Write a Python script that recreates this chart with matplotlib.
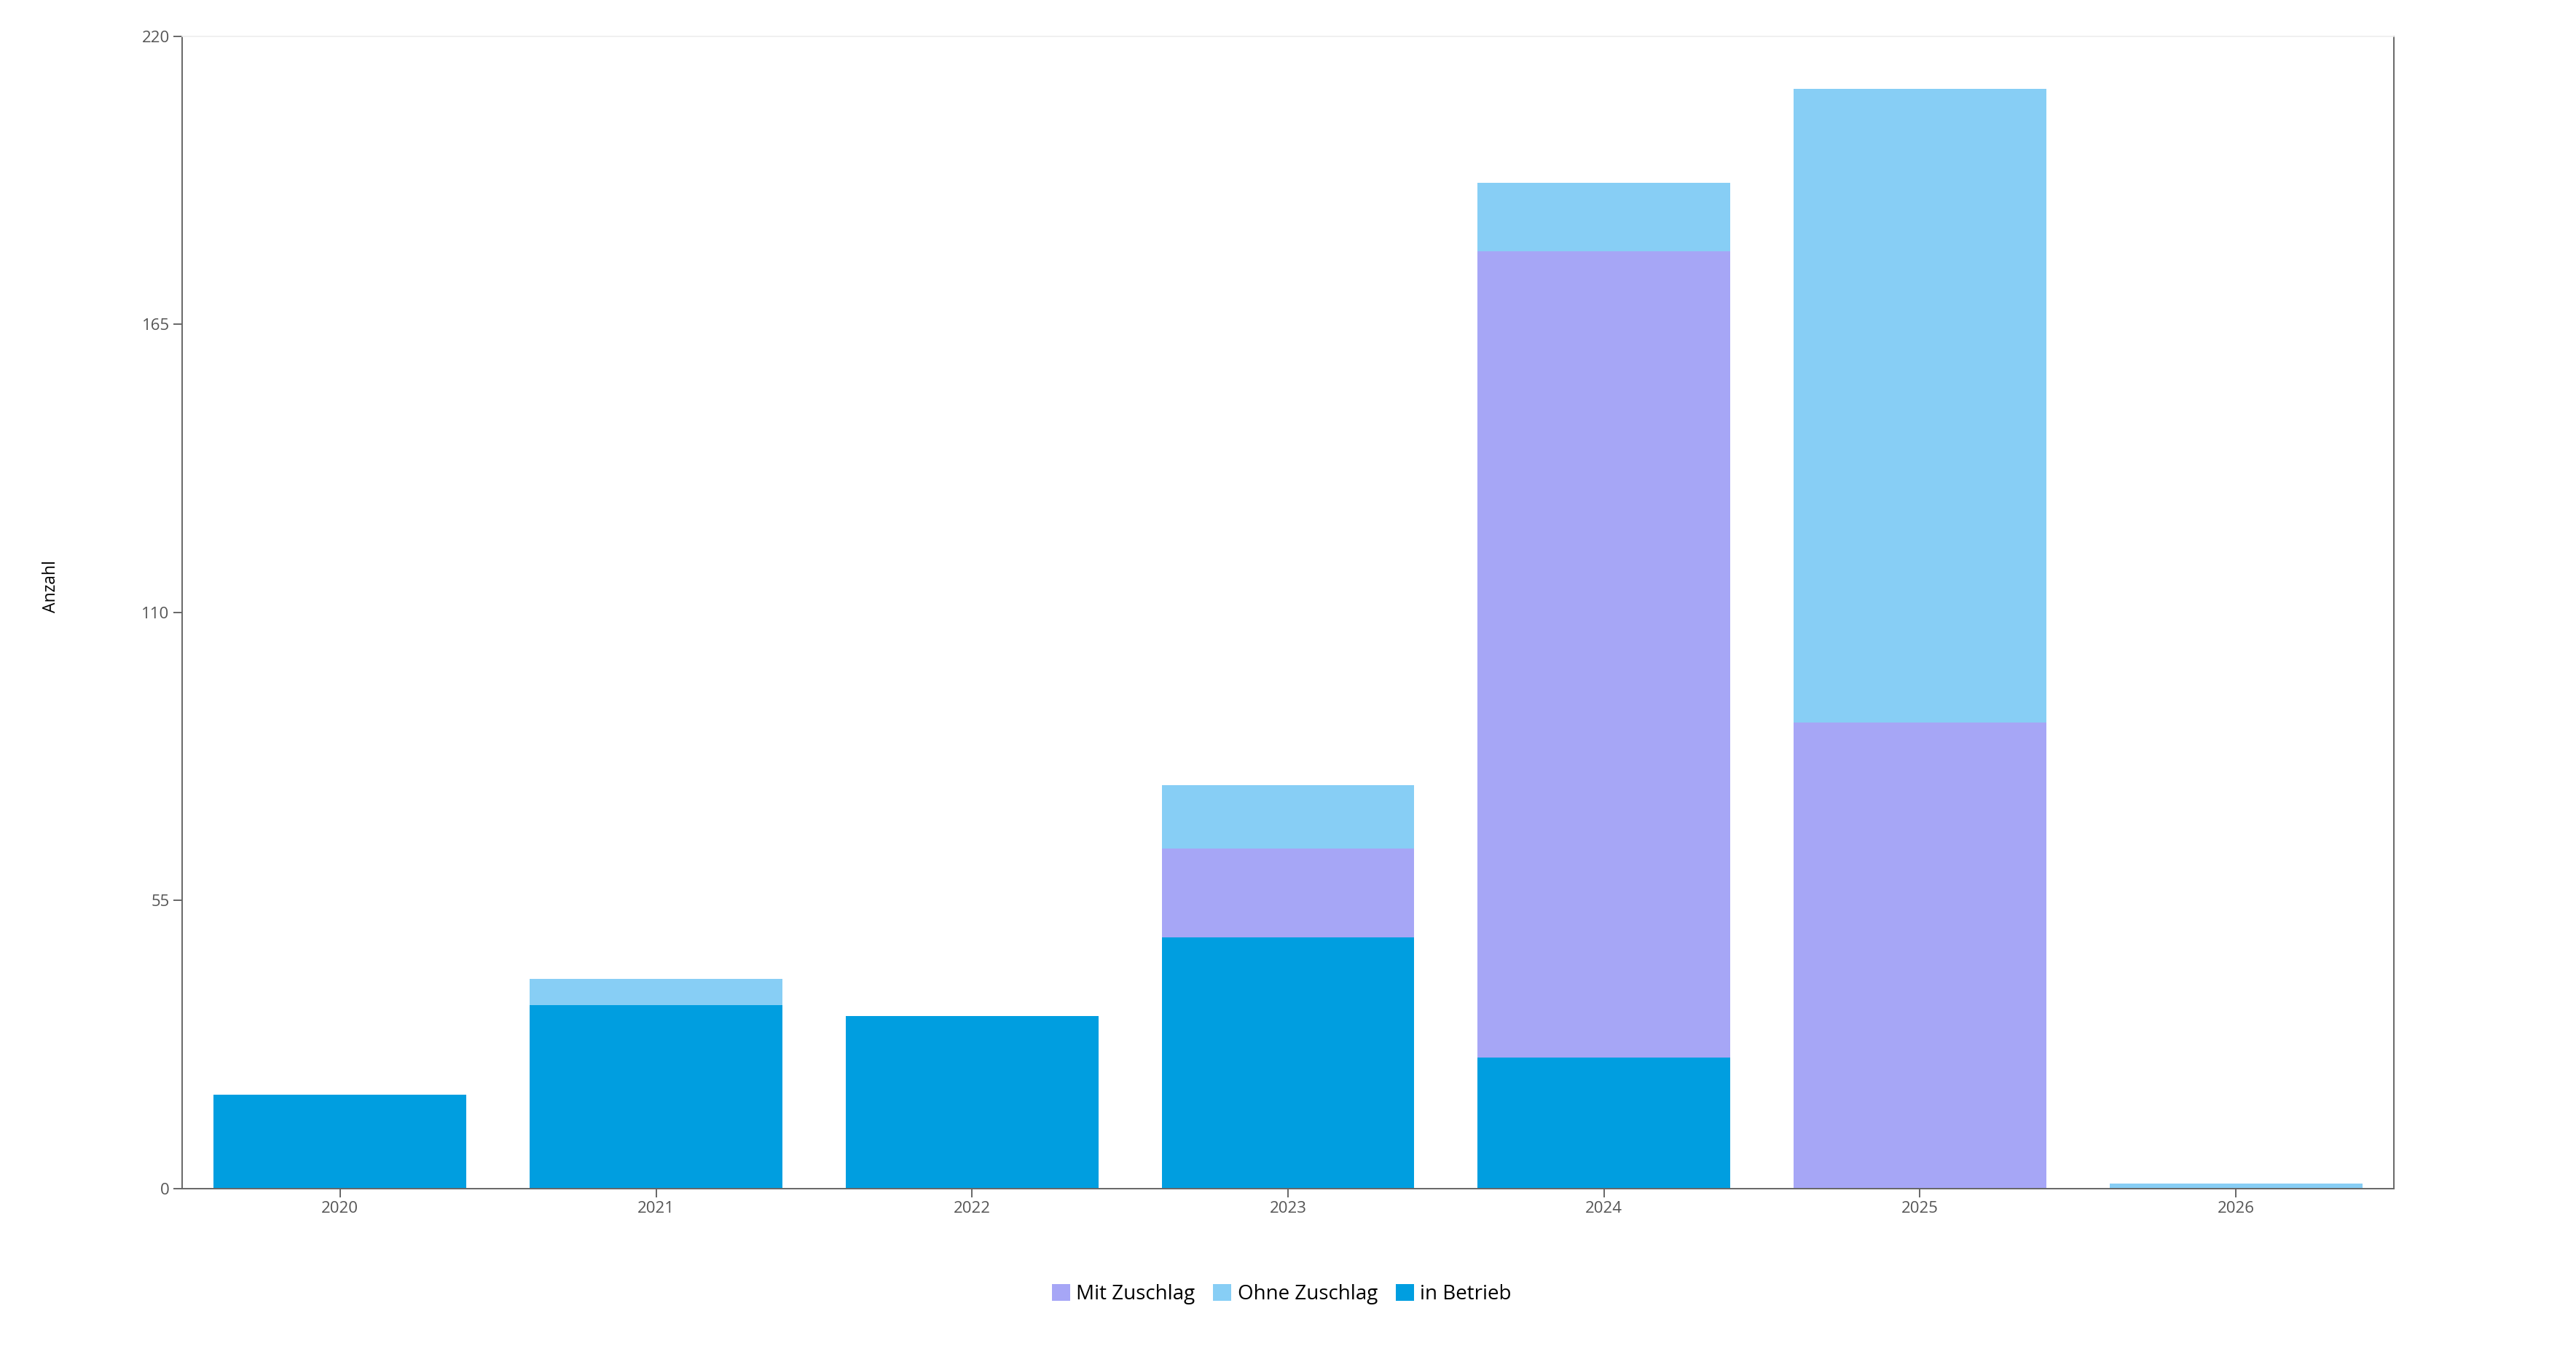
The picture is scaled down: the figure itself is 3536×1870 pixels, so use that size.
import numpy as np
from matplotlib import pyplot as plt

plt.rcParams['font.family'] = ['Open Sans', 'DejaVu Sans']

years = ["2020", "2021", "2022", "2023", "2024", "2025", "2026"]
in_betrieb = [18, 35, 33, 48, 25, 0, 0]
mit_zuschlag = [0, 0, 0, 17, 154, 89, 0]
ohne_zuschlag = [0, 5, 0, 12, 13, 121, 1]
y_ticks = [0, 55, 110, 165, 220]

col_betrieb = "#009ee0"
col_mit = "#a6a6f6"
col_ohne = "#87cef5"

fig = plt.figure(figsize=(35.36, 18.70), dpi=100)
ax = fig.add_axes([0.0707, 0.1273, 0.8586, 0.8460])

x = np.arange(len(years))
b1 = np.array(in_betrieb)
b2 = b1 + np.array(mit_zuschlag)

ax.bar(x, in_betrieb, width=0.8, color=col_betrieb, label="in Betrieb")
ax.bar(x, mit_zuschlag, width=0.8, bottom=b1, color=col_mit, label="Mit Zuschlag")
ax.bar(x, ohne_zuschlag, width=0.8, bottom=b2, color=col_ohne, label="Ohne Zuschlag")

ax.set_xlim(-0.5, len(years) - 0.5)
ax.set_ylim(0, 220)
ax.set_xticks(x)
ax.set_xticklabels(years)
ax.set_yticks(y_ticks)
ax.set_yticklabels([str(v) for v in y_ticks])

for s in ["left", "bottom", "right"]:
    ax.spines[s].set_color("#666666")
    ax.spines[s].set_linewidth(1.4)
ax.spines["top"].set_color("#eeeeee")
ax.spines["top"].set_linewidth(1.2)

ax.tick_params(axis="both", colors="#666666", labelcolor="#555555",
               labelsize=16, length=8.5, width=1.4, pad=4)

fig.text(0.0198, 0.5695, "Anzahl", rotation=90, ha="center", va="center",
         fontsize=16.5, color="black")

handles, labels = ax.get_legend_handles_labels()
order = [1, 2, 0]
fig.legend([handles[i] for i in order], [labels[i] for i in order],
           loc="center", bbox_to_anchor=(0.4975, 0.0495), ncol=3, frameon=False,
           fontsize=20, handlelength=0.9, handleheight=0.9,
           handletextpad=0.3, columnspacing=0.9)

plt.savefig("out.png", dpi=100)
plt.close()
